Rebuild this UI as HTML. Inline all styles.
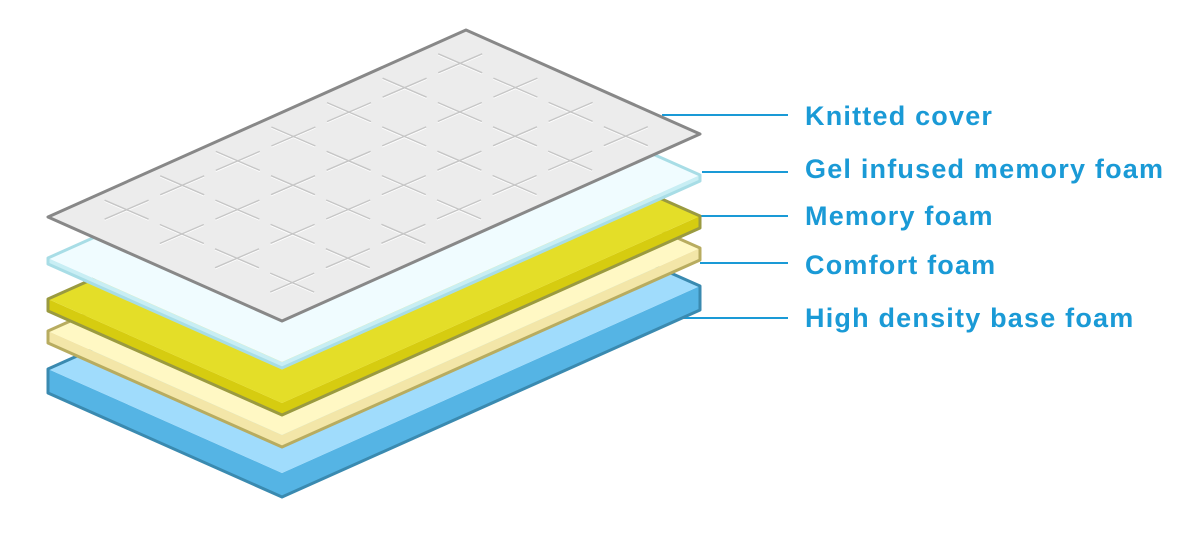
<!DOCTYPE html>
<html><head><meta charset="utf-8"><style>
html,body{margin:0;padding:0;background:#fff;}
svg{display:block}
text{font-family:"Liberation Sans",sans-serif;font-weight:bold;font-size:27px;letter-spacing:1.2px;fill:#1a9ad6}
</style></head><body>
<svg id="s" width="1193" height="535" viewBox="0 0 1193 535" xmlns="http://www.w3.org/2000/svg">
<g stroke="#1a9ad6" stroke-width="2">
<line x1="662" y1="115" x2="788" y2="115"/>
<line x1="702" y1="172" x2="788" y2="172"/>
<line x1="700" y1="216" x2="788" y2="216"/>
<line x1="700" y1="263" x2="788" y2="263"/>
<line x1="683" y1="318" x2="788" y2="318"/>
</g>
<text x="805" y="125">Knitted cover</text>
<text x="805" y="178">Gel infused memory foam</text>
<text x="805" y="225">Memory foam</text>
<text x="805" y="274">Comfort foam</text>
<text x="805" y="327">High density base foam</text>
<g id="layers"></g>
</svg>
<script>
var g=document.getElementById('layers');
var ns='http://www.w3.org/2000/svg';
function layer(yl,t,top,side,stroke,sw){
 var L=[48,yl],B=[282,yl+104],R=[700,yl-83],T=[466,yl-187];
 function p(pts,f,s,w){var e=document.createElementNS(ns,'polygon');e.setAttribute('points',pts.map(a=>a.join(',')).join(' '));e.setAttribute('fill',f);if(s){e.setAttribute('stroke',s);e.setAttribute('stroke-width',w);e.setAttribute('stroke-linejoin','round');}g.appendChild(e);}
 if(t>0){p([L,B,R,[R[0],R[1]+t],[B[0],B[1]+t],[L[0],L[1]+t]],side);}
 p([L,B,R,T],top);
 var o=[L,B,R,T];
 if(t>0)o=[L,T,R,[R[0],R[1]+t],[B[0],B[1]+t],[L[0],L[1]+t]];
 p(o,'none',stroke,sw);
}
layer(369,24,'#a0dcfc','#55b4e4','#3a8ab0',3);
layer(331,12,'#fff8c4','#f3e6a8','#b8ac60',3);
layer(299,12,'#e4de28','#d6cc10','#9a9a40',3);
layer(258,6,'#f0fcff','#c8eef4','#a8dde6',3);
layer(217,0,'#ececec','#ececec','#888888',3);
function ln(x1,y1,x2,y2,c,w){var l=document.createElementNS(ns,'line');l.setAttribute('x1',x1);l.setAttribute('y1',y1);l.setAttribute('x2',x2);l.setAttribute('y2',y2);l.setAttribute('stroke',c);l.setAttribute('stroke-width',w);g.appendChild(l);}
for(var i=0;i<4;i++)for(var j=0;j<7;j++){
 var cx=126.6+i*55.2+j*55.6, cy=209.7+i*24.3-j*24.4;
 var hx=22,hy=9.5;
 ln(cx-hx,cy-hy+1,cx+hx,cy+hy+1,'#ffffff',1.2);
 ln(cx-hx,cy+hy+1,cx+hx,cy-hy+1,'#ffffff',1.2);
 ln(cx-hx,cy-hy,cx+hx,cy+hy,'#c6c6c6',1.4);
 ln(cx-hx,cy+hy,cx+hx,cy-hy,'#c6c6c6',1.4);
}
</script>
</body></html>
